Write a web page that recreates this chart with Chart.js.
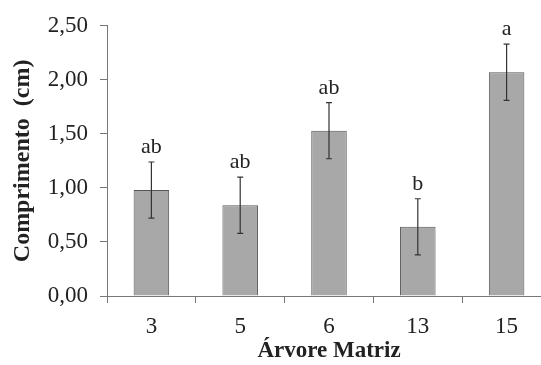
<!DOCTYPE html>
<html>
<head>
<meta charset="utf-8">
<script src="https://cdn.jsdelivr.net/npm/chart.js@4"></script>
<style>
  html, body { margin: 0; padding: 0; background: #fff; overflow: hidden; }
  #wrap { width: 551px; height: 365px; }
</style>
</head>
<body>
<div id="wrap"><canvas id="chart"></canvas></div>
<script>
// Árvore matriz vs comprimento médio (cm), com desvio e letras de Tukey
const categories = ['3', '5', '6', '13', '15'];
const means      = [0.98, 0.84, 1.53, 0.64, 2.07];
const errors     = [0.26, 0.26, 0.26, 0.26, 0.26];
const letters    = ['ab', 'ab', 'ab', 'b', 'a'];
const yTicks     = [0, 0.5, 1, 1.5, 2, 2.5];

const SERIF = "'Liberation Serif', 'Times New Roman', serif";

// error bars + significance letters on top of each bar
const errorBarPlugin = {
  id: 'errorBars',
  afterDatasetsDraw(chart) {
    const ctx = chart.ctx;
    const y = chart.scales.y;
    const meta = chart.getDatasetMeta(0);
    ctx.save();
    ctx.strokeStyle = '#333';
    ctx.lineWidth = 1.2;
    meta.data.forEach((bar, i) => {
      const x = bar.x;
      const top = y.getPixelForValue(means[i] + errors[i]);
      const bot = y.getPixelForValue(means[i] - errors[i]);
      ctx.beginPath();
      ctx.moveTo(x, top); ctx.lineTo(x, bot);
      ctx.moveTo(x - 3, top); ctx.lineTo(x + 3, top);
      ctx.moveTo(x - 3, bot); ctx.lineTo(x + 3, bot);
      ctx.stroke();
      ctx.fillStyle = '#222';
      ctx.font = '22px ' + SERIF;
      ctx.textAlign = 'center';
      ctx.textBaseline = 'alphabetic';
      ctx.fillText(letters[i], x, top - 9);
    });
    ctx.restore();
  }
};

new Chart(document.getElementById('chart'), {
  type: 'bar',
  data: {
    labels: categories,
    datasets: [{
      data: means,
      backgroundColor: '#a8a8a8',
      borderColor: '#555',
      borderWidth: 1,
      barPercentage: 0.4,
      categoryPercentage: 1.0
    }]
  },
  options: {
    responsive: true,
    maintainAspectRatio: false,
    animation: false,
    layout: { padding: { top: 24, left: 0, right: 0, bottom: 0 } },
    plugins: { legend: { display: false }, tooltip: { enabled: false } },
    scales: {
      x: {
        afterFit: s => { s.height = 69; },
        grid: { display: true, drawOnChartArea: false, drawTicks: true, tickLength: 7, color: '#777', offset: true },
        border: { display: true, color: '#777', width: 1 },
        ticks: { color: '#222', font: { family: SERIF, size: 23 }, padding: 10 },
        title: { display: true, text: 'Árvore Matriz', color: '#222',
                 font: { family: SERIF, size: 23, weight: 'bold' }, padding: { top: 0, bottom: 0 } }
      },
      y: {
        min: 0, max: 2.5,
        afterBuildTicks: s => { s.ticks = yTicks.map(v => ({ value: v })); },
        afterFit: s => { s.width = 107; },
        grid: { display: true, drawOnChartArea: false, drawTicks: true, tickLength: 7, color: '#777' },
        border: { display: true, color: '#777', width: 1 },
        ticks: {
          color: '#222', font: { family: SERIF, size: 23 }, padding: 12,
          callback: v => Number(v).toFixed(2).replace('.', ',')
        },
        title: { display: true, text: 'Comprimento  (cm)', color: '#222',
                 font: { family: SERIF, size: 24, weight: 'bold' }, padding: { top: 8, bottom: 0 } }
      }
    }
  },
  plugins: [errorBarPlugin]
});
</script>
</body>
</html>
